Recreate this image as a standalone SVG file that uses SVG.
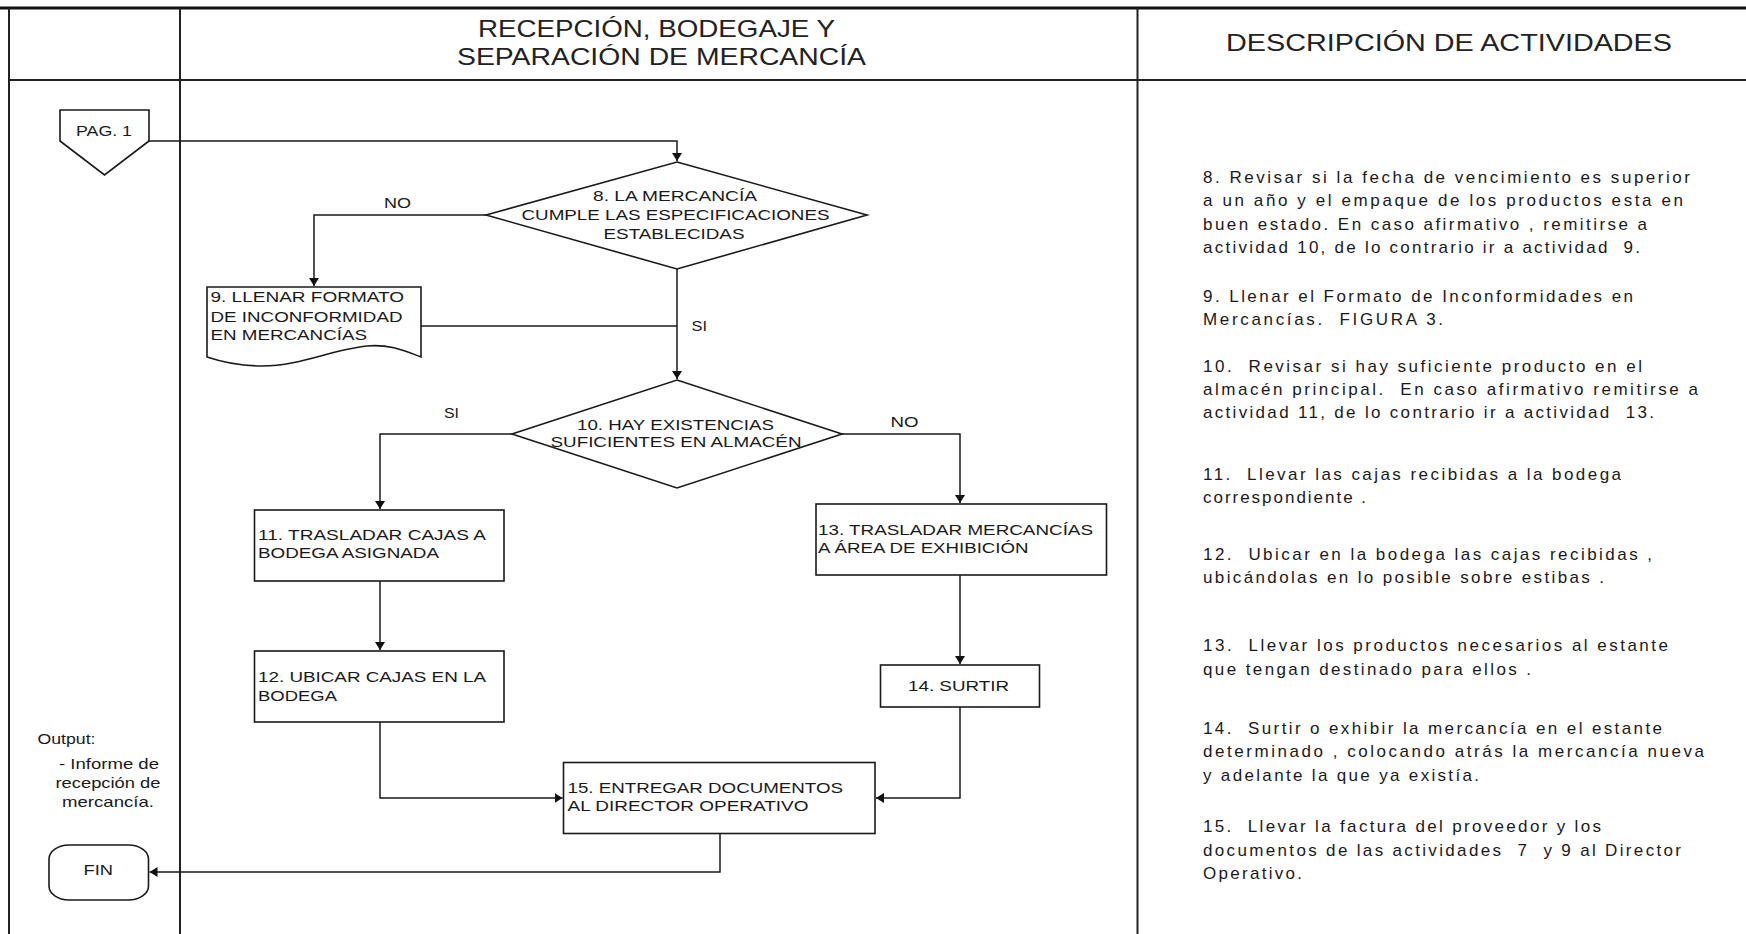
<svg xmlns="http://www.w3.org/2000/svg" width="1746" height="934" viewBox="0 0 1746 934">
  <style>
    .frame { stroke: #222; stroke-width: 2; fill: none; }
    .shape { stroke: #1a1a1a; stroke-width: 1.6; fill: #fff; }
    .conn { stroke: #1a1a1a; stroke-width: 1.5; fill: none; }
    text { font-family: "Liberation Sans", Arial, sans-serif; fill: #1a1a1a; }
    .hdr { font-size: 24px; fill: #222; }
    .lbl { font-size: 15px; }
    .desc { font-size: 17px; white-space: pre; }
    .out { font-size: 14.5px; }
  </style>
  <defs>
    <marker id="arrow" viewBox="0 0 8 10" markerWidth="8" markerHeight="10" refX="8" refY="5" orient="auto" markerUnits="userSpaceOnUse">
      <path d="M0,0 L8,5 L0,10 Z" fill="#111"/>
    </marker>
  </defs>

  <rect width="1746" height="934" fill="#fff"/>

  <!-- table frame -->
  <g id="frame">
    <line x1="0" y1="8" x2="1746" y2="8" stroke="#111" stroke-width="3"/>
    <line class="frame" x1="9" y1="8" x2="9" y2="934"/>
    <line class="frame" x1="180" y1="8" x2="180" y2="934"/>
    <line class="frame" x1="1137.5" y1="8" x2="1137.5" y2="934"/>
    <line class="frame" x1="9" y1="80" x2="1746" y2="80"/>
  </g>

  <!-- column headings -->
  <g id="headings">
    <text class="hdr" x="478" y="37" textLength="357" lengthAdjust="spacingAndGlyphs">RECEPCIÓN, BODEGAJE Y</text>
    <text class="hdr" x="457" y="65" textLength="409" lengthAdjust="spacingAndGlyphs">SEPARACIÓN DE MERCANCÍA</text>
    <text class="hdr" x="1226" y="50.5" textLength="446" lengthAdjust="spacingAndGlyphs">DESCRIPCIÓN DE ACTIVIDADES</text>
  </g>

  <!-- connectors -->
  <g id="connectors">
    <polyline class="conn" points="149,141 677,141 677,161" marker-end="url(#arrow)"/>
    <polyline class="conn" points="486,215 314,215 314,286" marker-end="url(#arrow)"/>
    <polyline class="conn" points="677,269 677,379" marker-end="url(#arrow)"/>
    <polyline class="conn" points="421,326 677,326"/>
    <polyline class="conn" points="513,434 380,434 380,509" marker-end="url(#arrow)"/>
    <polyline class="conn" points="842,434 960,434 960,503" marker-end="url(#arrow)"/>
    <polyline class="conn" points="380,581 380,650" marker-end="url(#arrow)"/>
    <polyline class="conn" points="960,575 960,664" marker-end="url(#arrow)"/>
    <polyline class="conn" points="380,722 380,798 562.5,798" marker-end="url(#arrow)"/>
    <polyline class="conn" points="960,707 960,798 876,798" marker-end="url(#arrow)"/>
    <polyline class="conn" points="720,833 720,872 149.5,872" marker-end="url(#arrow)"/>
    <text class="lbl" x="384" y="208" textLength="27" lengthAdjust="spacingAndGlyphs">NO</text>
    <text class="lbl" x="691.5" y="330.5" textLength="15.5" lengthAdjust="spacingAndGlyphs">SI</text>
    <text class="lbl" x="444" y="418" textLength="15" lengthAdjust="spacingAndGlyphs">SI</text>
    <text class="lbl" x="890.5" y="426.5" textLength="28" lengthAdjust="spacingAndGlyphs">NO</text>
  </g>

  <!-- off-page connector from page 1 -->
  <g id="pag1">
    <path class="shape" d="M60,110 H149 V141 L104.5,175 L60,141 Z"/>
    <text class="lbl" x="76" y="136" textLength="56" lengthAdjust="spacingAndGlyphs">PAG. 1</text>
  </g>

  <!-- decision 8 -->
  <g id="d8">
    <polygon class="shape" points="677,162 867,215 677,269 486,215"/>
    <text class="lbl" x="593" y="200.5" textLength="164" lengthAdjust="spacingAndGlyphs">8. LA MERCANCÍA</text>
    <text class="lbl" x="521.5" y="220" textLength="308" lengthAdjust="spacingAndGlyphs">CUMPLE LAS ESPECIFICACIONES</text>
    <text class="lbl" x="603.5" y="238.5" textLength="141" lengthAdjust="spacingAndGlyphs">ESTABLECIDAS</text>
  </g>

  <!-- document 9 -->
  <g id="b9">
    <path class="shape" d="M207,287 H421 V357 C405,351 390,344 367,346 C330,350 300,366 262,366 C240,366 222,362 207,357 Z"/>
    <text class="lbl" x="210.5" y="302" textLength="193.5" lengthAdjust="spacingAndGlyphs">9. LLENAR FORMATO</text>
    <text class="lbl" x="210.5" y="321.5" textLength="192" lengthAdjust="spacingAndGlyphs">DE INCONFORMIDAD</text>
    <text class="lbl" x="210.5" y="340" textLength="156.5" lengthAdjust="spacingAndGlyphs">EN MERCANCÍAS</text>
  </g>

  <!-- decision 10 -->
  <g id="d10">
    <polygon class="shape" points="677,380 842,434 677,488 512,434"/>
    <text class="lbl" x="577" y="430" textLength="197" lengthAdjust="spacingAndGlyphs">10. HAY EXISTENCIAS</text>
    <text class="lbl" x="550.5" y="446.5" textLength="251" lengthAdjust="spacingAndGlyphs">SUFICIENTES EN ALMACÉN</text>
  </g>

  <!-- process 11 -->
  <g id="b11">
    <rect class="shape" x="254.5" y="510" width="249.5" height="71"/>
    <text class="lbl" x="258" y="540" textLength="228" lengthAdjust="spacingAndGlyphs">11. TRASLADAR CAJAS A</text>
    <text class="lbl" x="258" y="558.3" textLength="181" lengthAdjust="spacingAndGlyphs">BODEGA ASIGNADA</text>
  </g>

  <!-- process 12 -->
  <g id="b12">
    <rect class="shape" x="254.5" y="651" width="249.5" height="71"/>
    <text class="lbl" x="258" y="682.3" textLength="228" lengthAdjust="spacingAndGlyphs">12. UBICAR CAJAS EN LA</text>
    <text class="lbl" x="258" y="700.7" textLength="79" lengthAdjust="spacingAndGlyphs">BODEGA</text>
  </g>

  <!-- process 13 -->
  <g id="b13">
    <rect class="shape" x="816" y="504" width="290.5" height="71"/>
    <text class="lbl" x="818" y="535" textLength="275" lengthAdjust="spacingAndGlyphs">13. TRASLADAR MERCANCÍAS</text>
    <text class="lbl" x="818" y="552.7" textLength="210.5" lengthAdjust="spacingAndGlyphs">A ÁREA DE EXHIBICIÓN</text>
  </g>

  <!-- process 14 -->
  <g id="b14">
    <rect class="shape" x="880.5" y="665" width="159" height="42"/>
    <text class="lbl" x="908" y="691.3" textLength="101" lengthAdjust="spacingAndGlyphs">14. SURTIR</text>
  </g>

  <!-- process 15 -->
  <g id="b15">
    <rect class="shape" x="563.5" y="762.5" width="311.5" height="71"/>
    <text class="lbl" x="567.5" y="793" textLength="275.5" lengthAdjust="spacingAndGlyphs">15. ENTREGAR DOCUMENTOS</text>
    <text class="lbl" x="567.5" y="811" textLength="241" lengthAdjust="spacingAndGlyphs">AL DIRECTOR OPERATIVO</text>
  </g>

  <!-- terminator -->
  <g id="fin">
    <rect class="shape" x="49" y="845" width="99.5" height="55" rx="20" ry="14"/>
    <text class="lbl" x="83.5" y="875" textLength="29.5" lengthAdjust="spacingAndGlyphs">FIN</text>
  </g>

  <!-- process output note -->
  <g id="output">
    <text class="out" x="37.5" y="744" textLength="58" lengthAdjust="spacingAndGlyphs">Output:</text>
    <text class="out" x="59" y="769" textLength="100" lengthAdjust="spacingAndGlyphs">- Informe de</text>
    <text class="out" x="55.5" y="788" textLength="105" lengthAdjust="spacingAndGlyphs">recepción de</text>
    <text class="out" x="62" y="806.5" textLength="92" lengthAdjust="spacingAndGlyphs">mercancía.</text>
  </g>

  <!-- activity descriptions -->
  <g id="descriptions" xml:space="preserve">
    <text class="desc" x="1203" y="183" textLength="487" lengthAdjust="spacing">8. Revisar si la fecha de vencimiento es superior</text>
    <text class="desc" x="1203" y="206" textLength="480" lengthAdjust="spacing">a un año y el empaque de los productos esta en</text>
    <text class="desc" x="1203" y="229.5" textLength="444" lengthAdjust="spacing">buen estado. En caso afirmativo , remitirse a</text>
    <text class="desc" x="1203" y="252.5" textLength="437" lengthAdjust="spacing">actividad 10, de lo contrario ir a actividad  9.</text>
    <text class="desc" x="1203" y="301.5" textLength="430" lengthAdjust="spacing">9. Llenar el Formato de Inconformidades en</text>
    <text class="desc" x="1203" y="324.5" textLength="240" lengthAdjust="spacing">Mercancías.  FIGURA 3.</text>
    <text class="desc" x="1203" y="371.5" textLength="439" lengthAdjust="spacing">10.  Revisar si hay suficiente producto en el</text>
    <text class="desc" x="1203" y="394.5" textLength="495" lengthAdjust="spacing">almacén principal.  En caso afirmativo remitirse a</text>
    <text class="desc" x="1203" y="417.5" textLength="451" lengthAdjust="spacing">actividad 11, de lo contrario ir a actividad  13.</text>
    <text class="desc" x="1203" y="480" textLength="418" lengthAdjust="spacing">11.  Llevar las cajas recibidas a la bodega</text>
    <text class="desc" x="1203" y="503" textLength="163" lengthAdjust="spacing">correspondiente .</text>
    <text class="desc" x="1203" y="559.5" textLength="449" lengthAdjust="spacing">12.  Ubicar en la bodega las cajas recibidas ,</text>
    <text class="desc" x="1203" y="582.5" textLength="401" lengthAdjust="spacing">ubicándolas en lo posible sobre estibas .</text>
    <text class="desc" x="1203" y="651" textLength="465" lengthAdjust="spacing">13.  Llevar los productos necesarios al estante</text>
    <text class="desc" x="1203" y="675" textLength="328" lengthAdjust="spacing">que tengan destinado para ellos .</text>
    <text class="desc" x="1203" y="734" textLength="459" lengthAdjust="spacing">14.  Surtir o exhibir la mercancía en el estante</text>
    <text class="desc" x="1203" y="757" textLength="501" lengthAdjust="spacing">determinado , colocando atrás la mercancía nueva</text>
    <text class="desc" x="1203" y="781" textLength="276" lengthAdjust="spacing">y adelante la que ya existía.</text>
    <text class="desc" x="1203" y="832" textLength="398" lengthAdjust="spacing">15.  Llevar la factura del proveedor y los</text>
    <text class="desc" x="1203" y="856" textLength="478" lengthAdjust="spacing">documentos de las actividades  7  y 9 al Director</text>
    <text class="desc" x="1203" y="879" textLength="99" lengthAdjust="spacing">Operativo.</text>
  </g>
</svg>
